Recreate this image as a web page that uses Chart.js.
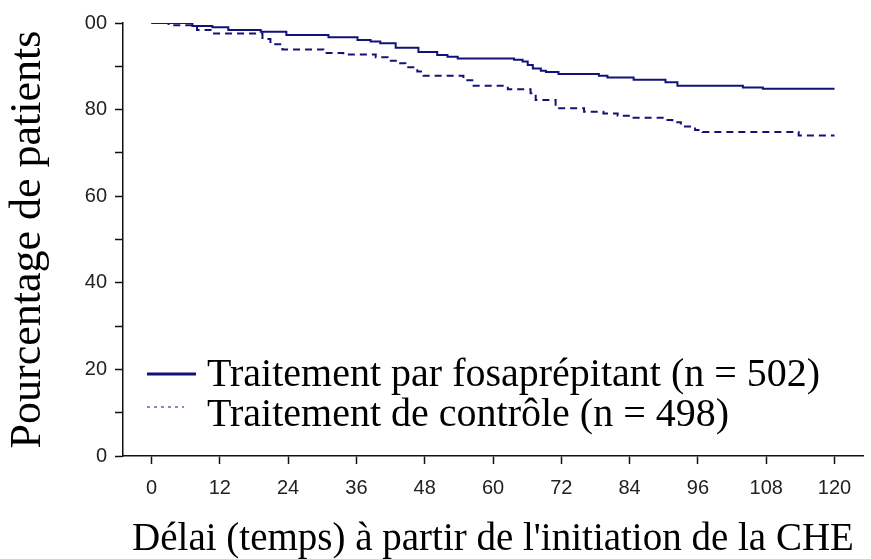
<!DOCTYPE html>
<html>
<head>
<meta charset="utf-8">
<script src="https://cdn.jsdelivr.net/npm/chart.js@4"></script>
<style>
  html, body { margin: 0; padding: 0; background: #fff; }
  #wrap { width: 871px; height: 559px; }
</style>
</head>
<body>
<div id="wrap"><canvas id="kmChart" width="871" height="559"></canvas></div>
<script>
// ============================================================
// DATA
// ============================================================

const fosaTimes  = [0, 7.2, 10.7, 13.5, 19.2, 23.7, 31.1, 36.2, 38.5, 40.2, 42.9, 46.9, 50.2, 52, 53.8,
                    63.7, 65.2, 66.1, 67, 68.4, 69.3, 71.5, 78.6, 80.1, 84.7, 90.3, 92.4, 103.9, 107.4, 120];
const fosaValues = [100, 99.3, 99.0, 98.4, 98.0, 97.2, 96.7, 96.1, 95.7, 95.3, 94.3, 93.3, 92.6, 92.2, 91.8,
                    91.5, 91.1, 90.3, 89.5, 89.0, 88.7, 88.2, 87.8, 87.4, 86.9, 86.3, 85.5, 85.1, 84.8, 84.8];

const controlTimes  = [0, 3, 8, 10.7, 19.5, 20.9, 23, 30.2, 33.7, 39.4, 41.5, 43.4, 44.6, 46.7, 47.8,
                       54.8, 56.6, 62.6, 66.6, 67.5, 71, 76, 79.4, 81.9, 84.7, 90.3, 91.5, 93, 95.5, 96.8, 113.7, 120];
const controlValues = [100, 99.5, 98.4, 97.6, 96.3, 95.1, 93.9, 93.1, 92.7, 92.1, 91.3, 90.7, 89.8, 88.8, 87.8,
                       86.8, 85.5, 84.7, 83.8, 82.2, 80.3, 79.5, 79.1, 78.6, 78.1, 77.6, 77.1, 76.1, 75.3, 74.8, 74.0, 74.0];

const xTicks = [0, 12, 24, 36, 48, 60, 72, 84, 96, 108, 120];
const yTicks = [0, 10, 20, 30, 40, 50, 60, 70, 80, 90, 100];
const yLabels = { 0: "0", 20: "20", 40: "40", 60: "60", 80: "80", 100: "00" };

const legendLabels = ["Traitement par fosaprépitant (n = 502)", "Traitement de contrôle (n = 498)"];
const xTitle = "Délai (temps) à partir de l'initiation de la CHE";
const yTitle = "Pourcentage de patients";


// ============================================================
// CHART
// ============================================================

const NAVY = "#121278";
const tickFont = { family: "'Liberation Sans', Arial, sans-serif", size: 20 };
const serif = "'Liberation Serif', 'Times New Roman', serif";

function toPoints(times, values) {
  return times.map((t, i) => ({ x: t, y: values[i] }));
}

// legend drawn inside the plot, like the original figure
const innerLegend = {
  id: "innerLegend",
  afterDraw(chart) {
    const ctx = chart.ctx;
    ctx.save();
    ctx.strokeStyle = NAVY;

    ctx.lineWidth = 3;
    ctx.setLineDash([]);
    ctx.beginPath();
    ctx.moveTo(147, 374);
    ctx.lineTo(196, 374);
    ctx.stroke();

    ctx.lineWidth = 1;
    ctx.setLineDash([3, 4]);
    ctx.beginPath();
    ctx.moveTo(147, 407);
    ctx.lineTo(184, 407);
    ctx.stroke();

    ctx.setLineDash([]);
    ctx.fillStyle = "#000";
    ctx.font = "40px " + serif;
    ctx.textBaseline = "alphabetic";
    ctx.fillText(legendLabels[0], 207, 386);
    ctx.fillText(legendLabels[1], 207, 426);
    ctx.restore();
  }
};

new Chart(document.getElementById("kmChart"), {
  type: "line",
  data: {
    datasets: [
      {
        data: toPoints(fosaTimes, fosaValues),
        borderColor: NAVY,
        borderWidth: 2,
        stepped: true,
        pointRadius: 0,
        fill: false,
      },
      {
        data: toPoints(controlTimes, controlValues),
        borderColor: NAVY,
        borderWidth: 2,
        borderDash: [7, 5],
        stepped: true,
        pointRadius: 0,
        fill: false,
      }
    ]
  },
  options: {
    responsive: false,
    animation: false,
    events: [],
    layout: { padding: { top: 23, right: 8, left: 0, bottom: 0 } },
    plugins: {
      legend:  { display: false },
      tooltip: { enabled: false },
    },
    scales: {
      x: {
        type: "linear",
        min: -5,
        max: 125,
        afterBuildTicks: s => { s.ticks = xTicks.map(v => ({ value: v })); },
        afterFit: s => { s.height = 103; },
        grid:   { drawOnChartArea: false, drawTicks: true, tickLength: 8, tickColor: "#111", tickWidth: 1.5 },
        border: { display: true, color: "#111", width: 1.5 },
        ticks:  { color: "#222", font: tickFont, padding: 12, maxRotation: 0, autoSkip: false },
        title:  { display: true, text: xTitle, color: "#000", font: { family: serif, size: 39, lineHeight: 1 }, padding: 0 }
      },
      y: {
        min: 0,
        max: 100,
        afterBuildTicks: s => { s.ticks = yTicks.map(v => ({ value: v })); },
        afterFit: s => { s.width = 123; },
        grid:   { drawOnChartArea: false, drawTicks: true, tickLength: 8, tickColor: "#111", tickWidth: 1.5 },
        border: { display: true, color: "#111", width: 1.5 },
        ticks:  {
          color: "#222",
          font: tickFont,
          padding: 8,
          autoSkip: false,
          callback: v => (yLabels[v] !== undefined ? yLabels[v] : "")
        },
        title:  { display: true, text: yTitle, color: "#000", font: { family: serif, size: 44, lineHeight: 1 }, padding: { top: 6, bottom: 0 } }
      }
    }
  },
  plugins: [innerLegend]
});
</script>
</body>
</html>
